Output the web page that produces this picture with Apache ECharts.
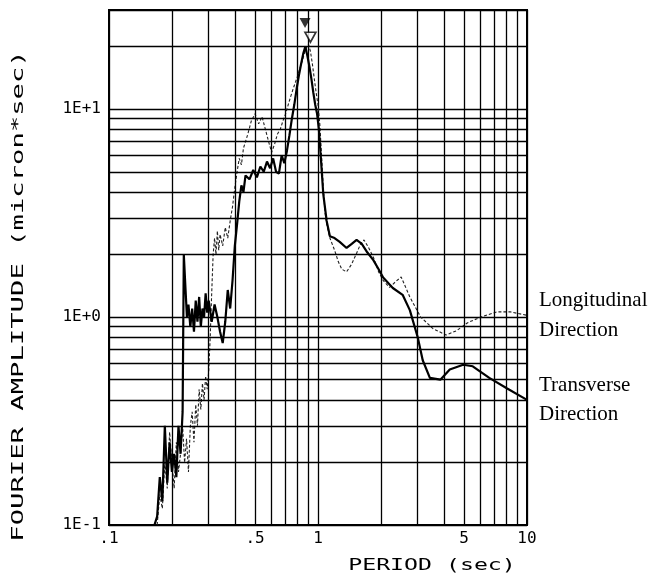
<!DOCTYPE html>
<html><head><meta charset="utf-8">
<script src="https://cdn.jsdelivr.net/npm/echarts@6/dist/echarts.min.js"></script>
<style>html,body{margin:0;padding:0;background:#fff}#c{width:666px;height:581px}</style>
</head><body><div id="c"></div>
<script>
// Transverse direction (thick solid line)
const periodT = [0.165,0.17,0.175,0.18,0.185,0.19,0.195,0.2,0.205,0.21,0.215,0.22,0.225,0.228,0.232,0.236,0.24,0.245,0.25,0.255,0.26,0.265,0.27,0.275,0.28,0.285,0.29,0.295,0.3,0.31,0.32,0.33,0.34,0.35,0.36,0.37,0.38,0.39,0.4,0.41,0.42,0.43,0.44,0.45,0.47,0.49,0.51,0.53,0.55,0.57,0.59,0.61,0.63,0.65,0.67,0.69,0.71,0.73,0.75,0.77,0.79,0.81,0.83,0.85,0.87,0.89,0.91,0.93,0.95,0.97,0.99,1.01,1.03,1.06,1.1,1.14,1.2,1.27,1.37,1.45,1.53,1.62,1.72,1.84,1.95,2.05,2.28,2.54,2.75,3.0,3.17,3.43,3.85,4.27,4.95,5.5,6.6,8.0,10];
const ampT = [0.1,0.11,0.17,0.13,0.3,0.16,0.25,0.18,0.22,0.17,0.3,0.22,0.35,2.0,1.4,1.0,1.15,0.9,1.1,0.85,1.2,0.95,1.25,0.9,1.1,1.0,1.3,1.05,1.2,0.95,1.15,1.0,0.85,0.75,0.95,1.35,1.1,1.5,2.2,2.8,3.6,4.3,4.0,4.8,4.6,5.1,4.7,5.3,5.0,5.6,5.2,5.8,5.0,4.9,6.0,5.5,6.3,7.5,9.0,10.5,12.5,14.5,16.5,18.5,20.0,18.0,16.0,14.0,12.0,10.5,9.5,8.0,6.0,3.9,2.9,2.45,2.4,2.3,2.15,2.25,2.35,2.25,2.05,1.88,1.7,1.55,1.38,1.28,1.08,0.8,0.62,0.51,0.5,0.56,0.59,0.58,0.51,0.455,0.4];

// Longitudinal direction (thin dotted line)
const periodL = [0.17,0.175,0.18,0.185,0.19,0.195,0.2,0.205,0.21,0.215,0.22,0.225,0.23,0.235,0.24,0.245,0.25,0.255,0.26,0.265,0.27,0.275,0.28,0.285,0.29,0.295,0.3,0.305,0.31,0.315,0.32,0.325,0.33,0.335,0.34,0.35,0.36,0.37,0.38,0.39,0.4,0.41,0.42,0.43,0.44,0.46,0.48,0.5,0.52,0.54,0.56,0.58,0.6,0.62,0.64,0.66,0.68,0.7,0.72,0.74,0.76,0.78,0.8,0.82,0.84,0.86,0.88,0.9,0.92,0.94,0.96,0.98,1.0,1.02,1.04,1.06,1.08,1.1,1.14,1.2,1.25,1.3,1.37,1.45,1.53,1.6,1.66,1.75,1.84,1.95,2.05,2.2,2.35,2.5,2.62,2.75,3.1,3.55,4.1,4.6,5.2,6.0,7.2,8.3,10];
const ampL = [0.1,0.14,0.12,0.2,0.15,0.28,0.2,0.15,0.25,0.18,0.22,0.3,0.2,0.26,0.18,0.3,0.35,0.25,0.38,0.3,0.45,0.36,0.48,0.4,0.52,0.45,0.55,0.8,1.3,2.0,2.4,2.0,2.6,2.1,2.5,2.2,2.7,2.4,2.9,3.4,4.2,5.0,5.8,5.4,6.5,7.5,8.8,9.5,8.5,9.2,8.0,7.0,6.2,6.8,7.6,8.0,8.8,9.5,10.5,11.5,12.5,13.5,14.5,15.8,17.0,18.5,19.8,20.5,19.0,16.5,14.0,12.0,10.5,8.5,6.0,4.2,3.2,2.8,2.4,2.1,1.85,1.7,1.65,1.8,2.03,2.25,2.35,2.15,1.94,1.65,1.5,1.39,1.48,1.56,1.4,1.25,1.0,0.88,0.82,0.86,0.94,1.0,1.06,1.06,1.02];

// Peak markers (filled = transverse, open = longitudinal)
const peakPeriodT = [0.867];
const peakMarkT = [26];
const peakPeriodL = [0.92];
const peakMarkL = [22.2];

// Tick labels
const xTickValues = [0.1, 0.5, 1, 5, 10];
const xTickText = ['.1', '.5', '1', '5', '10'];
const yTickValues = [0.1, 1, 10];
const yTickText = ['1E-1', '1E+0', '1E+1'];

// Minor gridline values (log paper)
const xGridValues = [0.2,0.3,0.4,0.5,0.6,0.7,0.8,0.9,2,3,4,5,6,7,8,9];
const yGridValues = [0.2,0.3,0.4,0.5,0.6,0.7,0.8,0.9,2,3,4,5,6,7,8,9,20];

const seriesNames = ['Longitudinal Direction', 'Transverse Direction'];

const MONO = '"DejaVu Sans Mono", monospace';
const SERIF = '"Liberation Serif", serif';

function lookup(vals, texts, v) {
  for (let i = 0; i < vals.length; i++) {
    if (Math.abs(v - vals[i]) / vals[i] < 1e-6) return texts[i];
  }
  return '';
}

const gridLineStyle = { color: '#000', width: 1.3, type: 'solid' };
const markData = [];
xGridValues.forEach(v => {
  const t = (v === 0.5 || v === 5) ? lookup(xTickValues, xTickText, v) : '';
  markData.push({
    xAxis: v,
    label: t ? { show: true, position: 'start', formatter: t, distance: 6,
      fontFamily: MONO, fontSize: 16, color: '#000' } : { show: false }
  });
});
yGridValues.forEach(v => markData.push({ yAxis: v, label: { show: false } }));

const chart = echarts.init(document.getElementById('c'), null, { renderer: 'canvas' });
chart.setOption({
  animation: false,
  backgroundColor: '#fff',
  grid: { left: 109, right: 139, top: 10, bottom: 56, show: true, borderColor: '#000', borderWidth: 2, backgroundColor: 'transparent' },
  xAxis: {
    type: 'log', logBase: 10, min: 0.1, max: 10,
    axisLine: { show: false }, axisTick: { show: false },
    splitLine: { show: true, lineStyle: gridLineStyle },
    axisLabel: { formatter: v => lookup(xTickValues, xTickText, v), fontFamily: MONO, fontSize: 16, color: '#000', margin: 6 }
  },
  yAxis: {
    type: 'log', logBase: 10, min: 0.1, max: 30,
    axisLine: { show: false }, axisTick: { show: false },
    splitLine: { show: true, lineStyle: gridLineStyle },
    axisLabel: { formatter: v => lookup(yTickValues, yTickText, v), fontFamily: MONO, fontSize: 16, color: '#000', margin: 8 }
  },
  series: [
    {
      name: 'grid', type: 'line', data: [], z: 1, silent: true,
      markLine: { silent: true, symbol: 'none', animation: false, lineStyle: gridLineStyle, data: markData }
    },
    {
      name: seriesNames[0], type: 'line', z: 3, showSymbol: false, smooth: false,
      data: periodL.map((p, i) => [p, ampL[i]]),
      lineStyle: { color: '#222', width: 1.1, type: [3, 2] }
    },
    {
      name: seriesNames[1], type: 'line', z: 4, showSymbol: false, smooth: false,
      data: periodT.map((p, i) => [p, ampT[i]]),
      lineStyle: { color: '#000', width: 2.2 }
    },
    {
      name: 'peakT', type: 'scatter', z: 5, symbol: 'triangle', symbolRotate: 180, symbolSize: [11, 10],
      data: peakPeriodT.map((p, i) => [p, peakMarkT[i]]),
      itemStyle: { color: '#000' }
    },
    {
      name: 'peakL', type: 'scatter', z: 5, symbol: 'triangle', symbolRotate: 180, symbolSize: [11, 10],
      data: peakPeriodL.map((p, i) => [p, peakMarkL[i]]),
      itemStyle: { color: '#fff', borderColor: '#000', borderWidth: 1.6 }
    }
  ],
  graphic: [
    { type: 'text', x: 432, y: 566, scaleX: 1.45, style: { text: 'PERIOD (sec)', font: '16px ' + MONO, fill: '#000', textAlign: 'center', textVerticalAlign: 'middle' } },
    { type: 'text', x: 19, y: 296, rotation: Math.PI / 2, scaleX: 1.7, style: { text: 'FOURIER AMPLITUDE (micron*sec)', font: '16px ' + MONO, fill: '#000', textAlign: 'center', textVerticalAlign: 'middle' } },
    { type: 'text', x: 539, y: 300, style: { text: 'Longitudinal', font: '21px ' + SERIF, fill: '#000', textAlign: 'left', textVerticalAlign: 'middle' } },
    { type: 'text', x: 539, y: 330, style: { text: 'Direction', font: '21px ' + SERIF, fill: '#000', textAlign: 'left', textVerticalAlign: 'middle' } },
    { type: 'text', x: 539, y: 385, style: { text: 'Transverse', font: '21px ' + SERIF, fill: '#000', textAlign: 'left', textVerticalAlign: 'middle' } },
    { type: 'text', x: 539, y: 414, style: { text: 'Direction', font: '21px ' + SERIF, fill: '#000', textAlign: 'left', textVerticalAlign: 'middle' } }
  ]
});
</script></body></html>
